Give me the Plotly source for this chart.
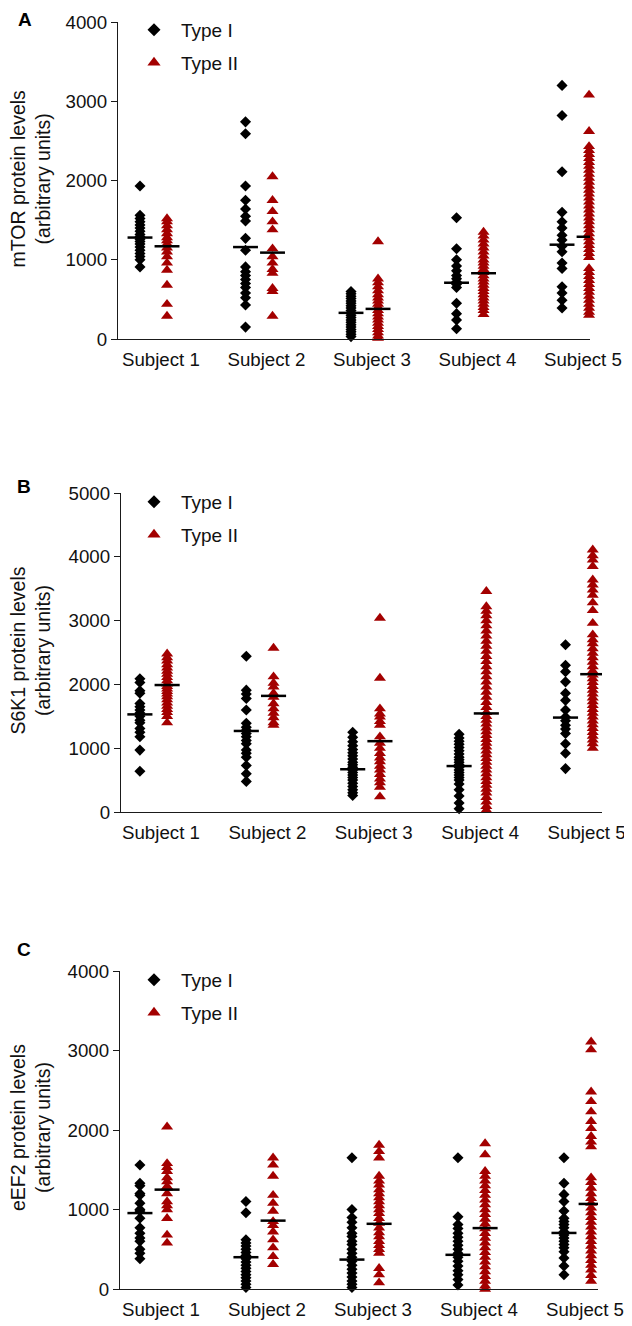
import plotly.graph_objects as go

W, H = 632, 1326
OX, OY = 8, 8  # page offset of the plot div inside the browser window
FONT = "Arial, Liberation Sans, sans-serif"
RED = "#a30000"

subjects = ["Subject 1", "Subject 2", "Subject 3", "Subject 4", "Subject 5"]
type_names = ["Type I", "Type II"]

# ---------- Panel A: mTOR ----------
mtor_type1 = [
    [1930, 1560, 1520, 1480, 1440, 1400, 1360, 1320, 1290, 1260, 1230, 1200, 1160, 1120, 1080, 1040, 1000, 910],
    [2740, 2590, 1930, 1750, 1640, 1550, 1490, 1270, 1120, 910, 850, 800, 750, 700, 650, 580, 520, 430, 150],
    [600, 570, 540, 510, 480, 450, 420, 390, 360, 330, 300, 270, 240, 210, 180, 150, 120, 90, 60, 30],
    [1530, 1140, 1000, 920, 860, 800, 760, 720, 690, 650, 450, 320, 240, 130],
    [3200, 2820, 2110, 1600, 1480, 1400, 1310, 1250, 1170, 1100, 960, 890, 660, 580, 490, 390],
]
mtor_type2 = [
    [1520, 1480, 1430, 1380, 1330, 1280, 1240, 1200, 1150, 1100, 1040, 960, 870, 680, 440, 290],
    [2050, 1750, 1610, 1480, 1380, 1140, 1040, 960, 880, 830, 640, 600, 290],
    [1230, 760, 710, 660, 610, 560, 520, 480, 440, 400, 360, 320, 280, 240, 200, 160, 120, 80, 40, 10],
    [1350, 1300, 1250, 1200, 1150, 1100, 1050, 1000, 960, 920, 880, 840, 800, 760, 720, 680, 640, 600,
     560, 520, 480, 440, 400, 360, 310],
    [3080, 2620, 2430, 2380, 2330, 2280, 2230, 2180, 2130, 2080, 2030, 1980, 1930, 1880, 1830, 1780, 1730,
     1680, 1630, 1580, 1530, 1480, 1430, 1380, 1330, 1280, 1230, 1180, 1130, 1080, 1030, 890, 840, 790,
     740, 690, 640, 590, 540, 490, 440, 390, 340, 300],
]
mtor_mean1 = [1280, 1160, 330, 710, 1190]
mtor_mean2 = [1170, 1090, 380, 830, 1290]

# ---------- Panel B: S6K1 ----------
s6k1_type1 = [
    [2090, 2030, 1900, 1860, 1700, 1650, 1600, 1550, 1500, 1440, 1400, 1310, 1250, 1180, 970, 640],
    [2440, 1910, 1850, 1780, 1600, 1390, 1330, 1280, 1230, 1180, 1120, 1070, 970, 920, 860, 730, 600, 480],
    [1250, 1170, 1100, 1040, 980, 930, 880, 830, 780, 740, 700, 660, 620, 580, 540, 500, 450, 400, 350, 300, 260],
    [1220, 1160, 1110, 1060, 1010, 960, 910, 860, 820, 780, 740, 700, 660, 620, 580, 540, 500, 440, 350, 250, 140, 50],
    [2620, 2300, 2200, 2040, 1860, 1750, 1600, 1490, 1430, 1360, 1300, 1230, 1070, 920, 680],
]
s6k1_type2 = [
    [2480, 2420, 2370, 2310, 2260, 2210, 2160, 2110, 2060, 2010, 1970, 1930, 1890, 1850, 1810, 1760, 1710,
     1660, 1610, 1560, 1500, 1400],
    [2570, 2120, 2020, 1960, 1860, 1800, 1700, 1620, 1550, 1480, 1400, 1360],
    [3040, 2100, 1620, 1540, 1490, 1420, 1360, 1180, 1080, 1000, 920, 850, 790, 720, 660, 590, 520, 460, 390, 240],
    [3460, 3220, 3150, 3080, 3000, 2920, 2840, 2760, 2680, 2600, 2520, 2440, 2360, 2280, 2200, 2120, 2040,
     1960, 1880, 1800, 1720, 1640, 1560, 1500, 1440, 1380, 1320, 1260, 1200, 1140, 1080, 1020, 960, 900,
     840, 780, 720, 660, 600, 540, 480, 420, 360, 300, 230, 160, 90, 30],
    [4110, 4020, 3950, 3850, 3640, 3560, 3480, 3400, 3280, 3160, 2960, 2780, 2700, 2640, 2560, 2490, 2420,
     2350, 2280, 2210, 2150, 2090, 2030, 1970, 1910, 1850, 1790, 1730, 1670, 1610, 1550, 1490, 1430, 1370,
     1310, 1250, 1190, 1130, 1070, 1000],
]
s6k1_mean1 = [1530, 1270, 670, 720, 1480]
s6k1_mean2 = [1990, 1820, 1110, 1545, 2160]

# ---------- Panel C: eEF2 ----------
eef2_type1 = [
    [1560, 1330, 1300, 1200, 1180, 1080, 1000, 980, 890, 770, 700, 640, 600, 500, 450, 380],
    [1100, 960, 620, 580, 540, 500, 460, 420, 380, 340, 300, 260, 220, 180, 140, 100, 60, 20],
    [1650, 1000, 900, 840, 770, 700, 660, 600, 560, 500, 450, 400, 350, 300, 250, 200, 150, 100, 60, 20],
    [1650, 910, 810, 760, 700, 650, 600, 550, 500, 450, 400, 350, 290, 230, 180, 120, 50],
    [1650, 1330, 1190, 1100, 980, 890, 850, 810, 770, 720, 680, 640, 600, 560, 520, 470, 390, 290, 180],
]
eef2_type2 = [
    [2040, 1580, 1530, 1480, 1400, 1350, 1290, 1270, 1200, 1100, 1050, 1000, 890, 680, 580],
    [1650, 1560, 1420, 1180, 1080, 980, 850, 800, 720, 620, 520, 410, 310],
    [1810, 1730, 1650, 1420, 1360, 1310, 1250, 1200, 1150, 1100, 1050, 1000, 950, 890, 830, 770, 710, 660,
     600, 550, 500, 450, 260, 180, 80],
    [1830, 1690, 1480, 1420, 1360, 1300, 1240, 1180, 1120, 1060, 1000, 940, 880, 820, 760, 700, 640, 580,
     520, 460, 400, 340, 280, 220, 160, 100, 40, 0],
    [3110, 3010, 2480, 2360, 2230, 2110, 2020, 1920, 1850, 1790, 1400, 1340, 1270, 1200, 1140, 1080, 1020,
     960, 900, 840, 780, 720, 660, 600, 540, 480, 420, 360, 300, 240, 170, 100],
]
eef2_mean1 = [955, 400, 370, 430, 705]
eef2_mean2 = [1250, 860, 820, 766, 1070]

# pixel positions below are as seen in the target picture; OX/OY convert to figure coords
panels = [
    dict(letter="A", title="mTOR protein levels<br>(arbitrary units)", t1=mtor_type1, t2=mtor_type2,
         m1=mtor_mean1, m2=mtor_mean2, ymax=4000, top=22, bottom=339, left=118, right=590,
         xr=(0.6635, 5.137), leg_y=30, letter_xy=(24.5, 19.5)),
    dict(letter="B", title="S6K1 protein levels<br>(arbitrary units)", t1=s6k1_type1, t2=s6k1_type2,
         m1=s6k1_mean1, m2=s6k1_mean2, ymax=5000, top=493, bottom=812, left=121, right=602,
         xr=(0.6945, 5.215), leg_y=502, letter_xy=(23.5, 486)),
    dict(letter="C", title="eEF2 protein levels<br>(arbitrary units)", t1=eef2_type1, t2=eef2_type2,
         m1=eef2_mean1, m2=eef2_mean2, ymax=4000, top=971, bottom=1289, left=120, right=598,
         xr=(0.684, 5.193), leg_y=980, letter_xy=(24, 949)),
]

OFF = 0.128
HALF = 0.118
LABEL_SHIFT = 0.07


def px(x):
    return (x - OX) / W


def py(y):
    return 1 - (y - OY) / H


fig = go.Figure()
layout = {}
annotations = []

for p_i, p in enumerate(panels):
    sfx = "" if p_i == 0 else str(p_i + 1)
    xa, ya = "x" + sfx, "y" + sfx
    leg = "legend" + sfx
    for t_i, (vals, means) in enumerate([(p["t1"], p["m1"]), (p["t2"], p["m2"])]):
        off = -OFF if t_i == 0 else OFF
        xs, ys = [], []
        for s_i, v in enumerate(vals):
            xs += [s_i + 1 + off] * len(v)
            ys += v
        if t_i == 0:
            marker = dict(symbol="diamond", size=8.5, color="black", line=dict(width=0))
            lmarker = dict(symbol="diamond", size=10, color="black", line=dict(width=0))
        else:
            marker = dict(symbol="triangle-up", size=10.5, color=RED, line=dict(width=0))
            lmarker = dict(symbol="triangle-up", size=11.5, color=RED, line=dict(width=0))
        fig.add_trace(go.Scatter(
            x=xs, y=ys, mode="markers", marker=marker, name=type_names[t_i],
            xaxis=xa, yaxis=ya, cliponaxis=False, showlegend=False, hoverinfo="skip"))
        # legend entry
        fig.add_trace(go.Scatter(
            x=[None], y=[None], mode="markers", marker=lmarker, name=type_names[t_i],
            xaxis=xa, yaxis=ya, legend=leg, legendgroup=f"g{t_i}", showlegend=True))
        lx, ly = [], []
        for s_i, m in enumerate(means):
            c = s_i + 1 + off
            lx += [c - HALF, c + HALF, None]
            ly += [m, m, None]
        fig.add_trace(go.Scatter(
            x=lx, y=ly, mode="lines", line=dict(color="black", width=2.5),
            xaxis=xa, yaxis=ya, showlegend=False, cliponaxis=False, hoverinfo="skip"))

    layout["xaxis" + sfx] = dict(
        domain=[px(p["left"]), px(p["right"])], range=list(p["xr"]), anchor=ya, automargin=False,
        tickvals=[i + 1 + LABEL_SHIFT for i in range(len(subjects))], ticktext=subjects,
        showgrid=False, zeroline=False, showline=True, linecolor="#1a1a1a", linewidth=1.3,
        ticks="outside", ticklen=3, tickcolor="rgba(0,0,0,0)",
        tickfont=dict(family=FONT, size=18.7, color="#111"), fixedrange=True)
    layout["yaxis" + sfx] = dict(
        domain=[py(p["bottom"]), py(p["top"])], range=[0, p["ymax"]], anchor=xa,
        automargin=False, dtick=1000, showgrid=False, zeroline=False, showline=True,
        linecolor="#1a1a1a", linewidth=1.3, ticks="outside", ticklen=6, tickwidth=1.3,
        tickcolor="#1a1a1a", tickfont=dict(family=FONT, size=18.7, color="#111"), fixedrange=True)
    layout[leg] = dict(
        x=px(153 - 26), y=py(p["leg_y"] - 19), xanchor="left", yanchor="top",
        bgcolor="rgba(0,0,0,0)", borderwidth=0, font=dict(family=FONT, size=19, color="#111"),
        itemwidth=44, tracegroupgap=5, traceorder="grouped")
    annotations.append(dict(
        text=f"<b>{p['letter']}</b>", x=px(p["letter_xy"][0]), y=py(p["letter_xy"][1]),
        xref="paper", yref="paper", showarrow=False, xanchor="center", yanchor="middle",
        font=dict(family=FONT, size=19, color="black")))
    annotations.append(dict(
        text=p["title"], x=px(30), y=py((p["top"] + p["bottom"]) / 2 - 2), xref="paper", yref="paper",
        showarrow=False, textangle=-90, xanchor="center", yanchor="middle",
        font=dict(family=FONT, size=19.5, color="#111")))

fig.update_layout(
    width=W, height=H, margin=dict(l=0, r=0, t=0, b=0, autoexpand=False), paper_bgcolor="white",
    plot_bgcolor="white", annotations=annotations, **layout)

fig.write_html("out.html")
